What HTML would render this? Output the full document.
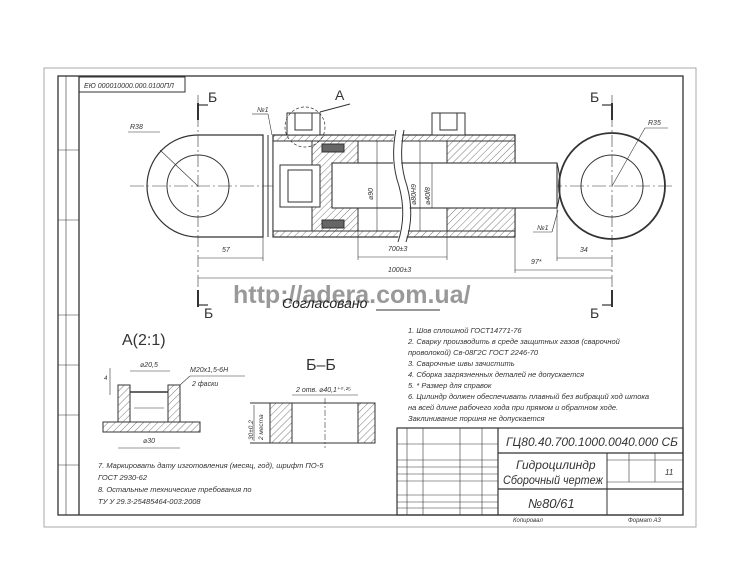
<!DOCTYPE html>
<html><head><meta charset="utf-8"><style>
body{margin:0;background:#fff;width:736px;height:586px;overflow:hidden}
svg{display:block}
text{font-family:"Liberation Sans","DejaVu Sans",sans-serif;font-style:italic;fill:#333}
</style></head><body>
<svg width="736" height="586" viewBox="0 0 736 586" fill="none" stroke="#333" stroke-width="1">
<defs><pattern id="h" width="5" height="5" patternUnits="userSpaceOnUse" patternTransform="rotate(45)"><rect width="5" height="5" fill="#fff" stroke="none"/><line x1="0" y1="0" x2="0" y2="5" stroke="#555" stroke-width="0.8"/></pattern></defs>
<rect x="0" y="0" width="736" height="586" fill="#fff" stroke="none"/>
<rect x="44" y="68" width="652" height="459" stroke="#aaa"/>
<rect x="58" y="76" width="625" height="439" stroke-width="1.3"/>
<line x1="79" y1="76" x2="79" y2="515" stroke-width="1.3"/>
<line x1="66" y1="76" x2="66" y2="515" stroke-width="0.6"/>
<g stroke-width="0.6"><line x1="58" y1="150" x2="79" y2="150"/><line x1="58" y1="220" x2="79" y2="220"/><line x1="58" y1="315" x2="79" y2="315"/><line x1="58" y1="365" x2="79" y2="365"/><line x1="58" y1="415" x2="79" y2="415"/><line x1="58" y1="465" x2="79" y2="465"/></g>
<rect x="79" y="77" width="106" height="15"/>
<text x="84" y="88" font-size="7" stroke="none">ЕЮ 000010000.000.0100ПЛ</text>
<line x1="130" y1="186" x2="675" y2="186" stroke-dasharray="14 3 2 3" stroke-width="0.6"/>
<path d="M198 135 H263 V237 H198 A51 51 0 0 1 198 135 Z" stroke-width="1.2"/>
<circle cx="198" cy="186" r="31"/>
<line x1="198" y1="95" x2="198" y2="310" stroke-dasharray="12 3 2 3" stroke-width="0.6"/>
<line x1="160" y1="150" x2="198" y2="186" stroke-width="0.6"/>
<line x1="128" y1="132" x2="160" y2="132" stroke-width="0.6"/><text x="130" y="129" font-size="7" stroke="none">R38</text>
<line x1="268" y1="135" x2="268" y2="237"/>
<rect x="273" y="135" width="242" height="102" stroke-width="1.2" fill="url(#h)"/>
<rect x="273" y="141" width="242" height="90" fill="#fff"/>
<rect x="312" y="141" width="46" height="90" fill="url(#h)"/>
<rect x="322" y="144" width="22" height="8" fill="#666"/><rect x="322" y="220" width="22" height="8" fill="#666"/>
<rect x="280" y="165" width="40" height="42" fill="#fff"/>
<rect x="288" y="170" width="24" height="32"/>
<rect x="447" y="141" width="68" height="90" fill="url(#h)"/>
<rect x="332" y="163" width="225" height="45" fill="#fff" stroke-width="1.1"/>
<path d="M557 163 Q563 186 557 208"/>
<line x1="377" y1="141" x2="377" y2="231" stroke-width="0.6"/>
<line x1="420" y1="141" x2="420" y2="231" stroke-width="0.6"/>
<line x1="432" y1="163" x2="432" y2="208" stroke-width="0.6"/>
<path d="M399 130 Q393 160 402 186 Q410 215 401 242" stroke="#fff" stroke-width="8"/>
<path d="M396 130 Q390 160 399 186 Q407 215 398 242"/><path d="M404 130 Q398 160 407 186 Q415 215 406 242"/>
<rect x="287" y="113" width="33" height="22" fill="#fff"/><rect x="295" y="113" width="17" height="17"/>
<rect x="432" y="113" width="33" height="22" fill="#fff"/><rect x="440" y="113" width="17" height="17"/>
<circle cx="305" cy="127" r="20" stroke-dasharray="3 2" stroke-width="0.7"/>
<line x1="320" y1="112" x2="350" y2="104"/><text x="335" y="100" font-size="14" stroke="none" style="font-style:normal">А</text>
<text x="257" y="112" font-size="7" stroke="none">№1</text><line x1="252" y1="114" x2="268" y2="114" stroke-width="0.6"/><line x1="268" y1="114" x2="272" y2="135" stroke-width="0.6"/>
<text x="373" y="200" font-size="7" stroke="none" transform="rotate(-90 373 200)">⌀90</text>
<text x="416" y="205" font-size="7" stroke="none" transform="rotate(-90 416 205)">⌀80Н9</text>
<text x="430" y="205" font-size="7" stroke="none" transform="rotate(-90 430 205)">⌀40f8</text>
<circle cx="612" cy="186" r="53" stroke-width="1.8"/>
<circle cx="612" cy="186" r="31"/>
<line x1="612" y1="95" x2="612" y2="310" stroke-dasharray="12 3 2 3" stroke-width="0.6"/>
<line x1="612" y1="186" x2="645" y2="128" stroke-width="0.6"/>
<line x1="645" y1="128" x2="668" y2="128" stroke-width="0.6"/><text x="648" y="125" font-size="7" stroke="none">R35</text>
<text x="537" y="230" font-size="7" stroke="none">№1</text><line x1="533" y1="232" x2="552" y2="232" stroke-width="0.6"/><line x1="552" y1="232" x2="558" y2="210" stroke-width="0.6"/>
<g stroke-width="0.6">
<line x1="198" y1="258" x2="263" y2="258"/><text x="222" y="252" font-size="7" stroke="none">57</text>
<line x1="263" y1="237" x2="263" y2="261"/>
<line x1="358" y1="257" x2="447" y2="257"/><text x="388" y="251" font-size="7" stroke="none">700±3</text>
<line x1="358" y1="231" x2="358" y2="260"/><line x1="447" y1="231" x2="447" y2="260"/>
<line x1="515" y1="270" x2="612" y2="270"/><text x="531" y="264" font-size="7" stroke="none">97*</text>
<line x1="515" y1="237" x2="515" y2="273"/>
<line x1="557" y1="258" x2="612" y2="258"/><text x="580" y="252" font-size="7" stroke="none">34</text>
<line x1="557" y1="208" x2="557" y2="261"/>
<line x1="198" y1="278" x2="612" y2="278"/><text x="388" y="272" font-size="7" stroke="none">1000±3</text>
</g>
<g stroke-width="2"><line x1="198" y1="103" x2="198" y2="120"/><line x1="612" y1="103" x2="612" y2="120"/><line x1="198" y1="290" x2="198" y2="307"/><line x1="612" y1="290" x2="612" y2="307"/></g>
<g stroke-width="1.2"><line x1="198" y1="105" x2="208" y2="105"/><line x1="602" y1="105" x2="612" y2="105"/><line x1="198" y1="305" x2="208" y2="305"/><line x1="602" y1="305" x2="612" y2="305"/></g>
<text x="208" y="102" font-size="14" stroke="none" style="font-style:normal">Б</text>
<text x="590" y="102" font-size="14" stroke="none" style="font-style:normal">Б</text>
<text x="204" y="318" font-size="14" stroke="none" style="font-style:normal">Б</text>
<text x="590" y="318" font-size="14" stroke="none" style="font-style:normal">Б</text>
<text x="233" y="303" font-size="25" font-weight="bold" stroke="none" style="font-style:normal;fill:#999">http://adera.com.ua/</text>
<text x="282" y="308" font-size="14" stroke="none" style="fill:#222">Согласовано</text>
<line x1="376" y1="310" x2="440" y2="310"/>
<text x="122" y="345" font-size="16" stroke="none" style="font-style:normal">А(2:1)</text>
<rect x="103" y="422" width="97" height="10" fill="url(#h)"/>
<rect x="118" y="385" width="12" height="37" fill="url(#h)"/><rect x="168" y="385" width="12" height="37" fill="url(#h)"/>
<line x1="130" y1="392" x2="168" y2="392" stroke-width="1.5"/>
<line x1="134" y1="408" x2="164" y2="408" stroke-width="0.6"/>
<line x1="130" y1="371" x2="170" y2="371" stroke-width="0.6"/>
<text x="140" y="367" font-size="7" stroke="none">⌀20,5</text>
<line x1="180" y1="385" x2="190" y2="376" stroke-width="0.6"/><line x1="190" y1="376" x2="245" y2="376" stroke-width="0.6"/>
<text x="190" y="372" font-size="7" stroke="none">M20x1,5-6H</text><text x="192" y="386" font-size="7" stroke="none">2 фаски</text>
<line x1="110" y1="368" x2="110" y2="395" stroke-width="0.6"/><text x="104" y="380" font-size="6" stroke="none">4</text>
<line x1="118" y1="448" x2="180" y2="448" stroke-width="0.6"/><text x="143" y="443" font-size="7" stroke="none">⌀30</text>
<text x="306" y="370" font-size="16" stroke="none" style="font-style:normal">Б–Б</text>
<line x1="250" y1="403" x2="375" y2="403"/><line x1="250" y1="443" x2="375" y2="443"/>
<rect x="270" y="403" width="22" height="40" fill="url(#h)"/><rect x="358" y="403" width="17" height="40" fill="url(#h)"/>
<line x1="325" y1="398" x2="325" y2="448" stroke-dasharray="6 2 2 2" stroke-width="0.6"/>
<text x="296" y="392" font-size="7" stroke="none">2 отв. ⌀40,1⁺⁰·²⁵</text>
<line x1="292" y1="395" x2="358" y2="395" stroke-width="0.6"/>
<line x1="254" y1="405" x2="254" y2="441" stroke-width="0.6"/>
<text x="253" y="440" font-size="6.5" stroke="none" transform="rotate(-90 253 440)">30±0,2</text>
<text x="263" y="440" font-size="6.5" stroke="none" transform="rotate(-90 263 440)">2 места</text>
<g font-size="7.5" stroke="none">
<text x="408" y="333">1. Шов сплошной ГОСТ14771-76</text>
<text x="408" y="344">2. Сварку производить в среде защитных газов (сварочной</text>
<text x="408" y="355">проволокой) Св-08Г2С ГОСТ 2246-70</text>
<text x="408" y="366">3. Сварочные швы зачистить</text>
<text x="408" y="377">4. Сборка загрязненных деталей не допускается</text>
<text x="408" y="388">5. * Размер для справок</text>
<text x="408" y="399">6. Цилиндр должен обеспечивать плавный без вибраций ход штока</text>
<text x="408" y="410">на всей длине рабочего хода при прямом и обратном ходе.</text>
<text x="408" y="421">Заклинивание поршня не допускается</text>
<text x="98" y="468">7. Маркировать дату изготовления (месяц, год), шрифт ПО-5</text>
<text x="98" y="480">ГОСТ 2930-62</text>
<text x="98" y="492">8. Остальные технические требования по</text>
<text x="98" y="504">ТУ У 29.3-25485464-003:2008</text>
</g>
<rect x="397" y="428" width="286" height="87" stroke-width="1.2"/>
<line x1="498" y1="428" x2="498" y2="515" stroke-width="1.2"/>
<line x1="498" y1="453" x2="683" y2="453" stroke-width="1.2"/>
<line x1="498" y1="489" x2="683" y2="489" stroke-width="1.2"/>
<line x1="607" y1="453" x2="607" y2="515"/>
<g stroke-width="0.6">
<line x1="407" y1="428" x2="407" y2="515"/><line x1="423" y1="428" x2="423" y2="515"/><line x1="460" y1="428" x2="460" y2="515"/><line x1="482" y1="428" x2="482" y2="515"/>
<line x1="397" y1="444" x2="498" y2="444"/><line x1="397" y1="460" x2="498" y2="460"/><line x1="397" y1="467" x2="498" y2="467"/><line x1="397" y1="474" x2="498" y2="474"/><line x1="397" y1="481" x2="498" y2="481"/><line x1="397" y1="495" x2="498" y2="495"/><line x1="397" y1="502" x2="498" y2="502"/><line x1="397" y1="508" x2="498" y2="508"/>
<line x1="607" y1="460" x2="683" y2="460"/><line x1="607" y1="482" x2="683" y2="482"/>
<line x1="629" y1="453" x2="629" y2="482"/><line x1="655" y1="453" x2="655" y2="482"/>
</g>
<text x="506" y="446" font-size="11.5" stroke="none" textLength="172" lengthAdjust="spacingAndGlyphs">ГЦ80.40.700.1000.0040.000 СБ</text>
<text x="516" y="469" font-size="12" stroke="none">Гидроцилиндр</text>
<text x="503" y="484" font-size="12" stroke="none" textLength="100" lengthAdjust="spacingAndGlyphs">Сборочный чертеж</text>
<text x="528" y="508" font-size="13" stroke="none">№80/61</text>
<text x="665" y="475" font-size="8" stroke="none">11</text>
<text x="513" y="522" font-size="6" stroke="none">Копировал</text><text x="628" y="522" font-size="6" stroke="none">Формат А3</text>
</svg>
</body></html>
